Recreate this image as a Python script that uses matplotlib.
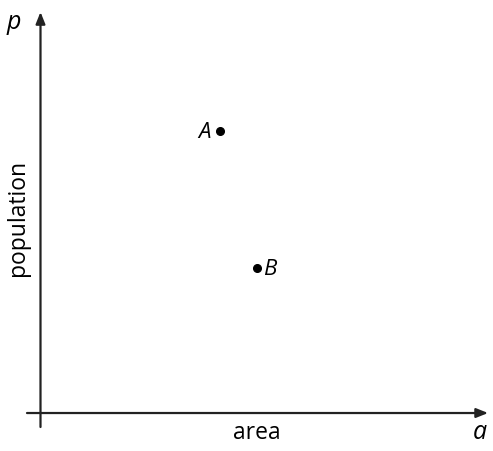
import matplotlib.pyplot as plt

# --- Data (arbitrary units, origin at the axes crossing) ---
point_names = ["A", "B"]
area_vals = [2.99, 3.61]
pop_vals = [4.70, 2.42]

plt.rcParams['font.family'] = ['Open Sans', 'DejaVu Sans']

fig = plt.figure(figsize=(4.93, 4.51), dpi=100)
ax = fig.add_axes([0, 0, 1, 1])
ax.set_xlim(-0.675, 7.542)
ax.set_ylim(-0.633, 6.883)
ax.axis('off')

axis_col = '#222222'
arrow = dict(arrowstyle='-|>,head_length=0.7,head_width=0.28', color=axis_col,
             lw=1.6, shrinkA=0, shrinkB=0)
# x axis
ax.annotate('', xy=(7.46, 0), xytext=(-0.225, 0), arrowprops=arrow)
# y axis
ax.annotate('', xy=(0, 6.683), xytext=(0, -0.233), arrowprops=arrow)

# points
ax.plot(area_vals, pop_vals, 'o', color='black', markersize=5.5)
ax.text(area_vals[0] - 0.15, pop_vals[0] - 0.03, point_names[0], style='italic',
        fontsize=16, ha='right', va='center')
ax.text(area_vals[1] + 0.10, pop_vals[1] - 0.03, point_names[1], style='italic',
        fontsize=16, ha='left', va='center')

# axis labels
ax.text(3.61, -0.33, "area", fontsize=16.5, ha='center', va='center')
ax.text(-0.375, 3.25, "population", fontsize=16.5, ha='center', va='center', rotation=90)
ax.text(7.325, -0.33, "a", style='italic', fontsize=18, ha='center', va='center')
ax.text(-0.45, 6.5, "p", style='italic', fontsize=18, ha='center', va='center')

fig.savefig("out.png", dpi=100)
